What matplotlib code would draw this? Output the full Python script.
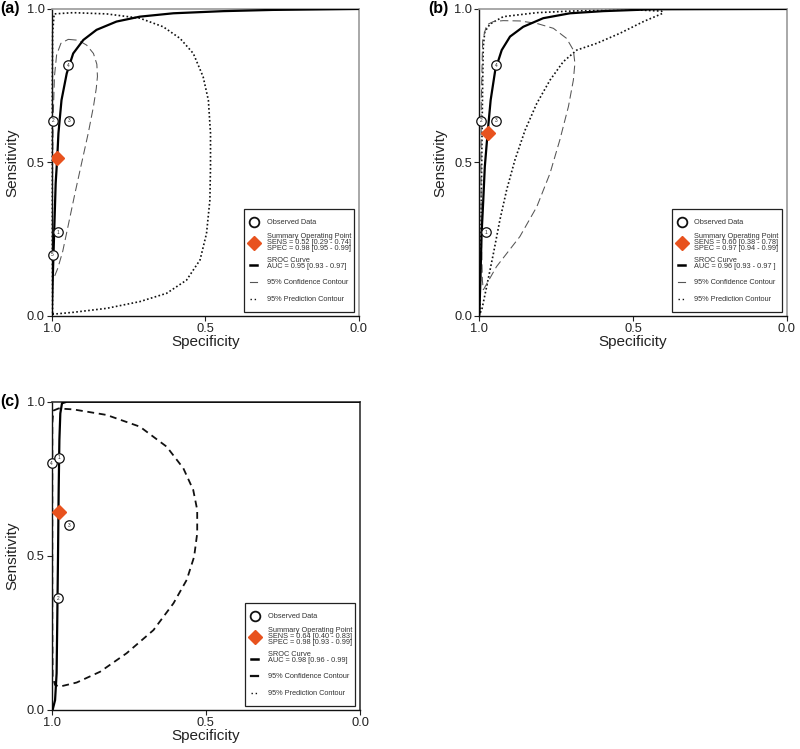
import matplotlib
matplotlib.use("Agg")
import matplotlib.pyplot as plt
from matplotlib import font_manager
from matplotlib.patches import Rectangle

# ---------------- data (specificity, sensitivity) ----------------
# Panel (a)
a_obs_spec = [0.997, 0.978, 0.995, 0.944, 0.946]
a_obs_sens = [0.198, 0.272, 0.636, 0.636, 0.817]
a_obs_lab = ["5", "1", "2", "3", "4"]
a_sum_spec = [0.982]
a_sum_sens = [0.515]
a_sroc_spec = [1.0, 0.997, 0.992, 0.987, 0.982, 0.978, 0.968, 0.951, 0.93, 0.897,
               0.854, 0.789, 0.713, 0.604, 0.441, 0.279, 0.0]
a_sroc_sens = [0.0, 0.105, 0.268, 0.432, 0.513, 0.595, 0.703, 0.79, 0.855, 0.899,
               0.932, 0.959, 0.975, 0.986, 0.993, 0.997, 1.0]
a_conf_spec = [0.946, 0.913, 0.886, 0.864, 0.853, 0.851, 0.855, 0.864, 0.881, 0.902,
               0.924, 0.945, 0.964, 0.98, 0.992, 0.996, 0.998, 0.998, 0.997, 0.995,
               0.991, 0.984, 0.97, 0.946]
a_conf_sens = [0.901, 0.898, 0.882, 0.855, 0.82, 0.78, 0.74, 0.682, 0.595, 0.5,
               0.4, 0.3, 0.21, 0.155, 0.125, 0.13, 0.2, 0.33, 0.49, 0.65,
               0.78, 0.85, 0.888, 0.901]
a_pred_spec = [0.997, 0.998, 0.998, 0.998, 0.997, 0.992, 0.93, 0.821, 0.713, 0.637,
               0.582, 0.539, 0.507, 0.49, 0.483, 0.483, 0.485, 0.496, 0.517, 0.561,
               0.626, 0.713, 0.821, 0.93, 0.995, 0.997]
a_pred_sens = [0.008, 0.25, 0.5, 0.75, 0.921, 0.984, 0.988, 0.984, 0.970, 0.942,
               0.904, 0.855, 0.779, 0.703, 0.595, 0.486, 0.377, 0.268, 0.182, 0.116,
               0.073, 0.046, 0.024, 0.011, 0.005, 0.008]

# Panel (b)
b_obs_spec = [0.978, 0.995, 0.944, 0.944]
b_obs_sens = [0.272, 0.636, 0.636, 0.817]
b_obs_lab = ["1", "2", "3", "4"]
b_sum_spec = [0.971]
b_sum_sens = [0.597]
b_sroc_spec = [1.0, 0.9967, 0.9924, 0.987, 0.982, 0.973, 0.963, 0.948, 0.927, 0.9,
               0.857, 0.792, 0.705, 0.597, 0.434, 0.0]
b_sroc_sens = [0.0, 0.105, 0.268, 0.377, 0.486, 0.595, 0.703, 0.801, 0.866, 0.91,
               0.942, 0.970, 0.986, 0.993, 0.999, 1.0]
b_conf_spec = [0.987, 0.944, 0.868, 0.813, 0.77, 0.738, 0.71, 0.694, 0.689, 0.694,
               0.716, 0.759, 0.813, 0.868, 0.922, 0.954, 0.976, 0.989, 0.9935, 0.9946,
               0.9935, 0.990, 0.987]
b_conf_sens = [0.084, 0.16, 0.258, 0.355, 0.464, 0.573, 0.682, 0.768, 0.823, 0.866,
               0.904, 0.937, 0.953, 0.961, 0.962, 0.959, 0.948, 0.899, 0.703, 0.486,
               0.268, 0.116, 0.084]
b_pred_spec = [0.998, 0.996, 0.9935, 0.991, 0.989, 0.987, 0.982, 0.965, 0.922, 0.813,
               0.705, 0.597, 0.488, 0.407, 0.403, 0.466, 0.542, 0.618, 0.683, 0.727,
               0.77, 0.813, 0.851, 0.884, 0.911, 0.933, 0.954, 0.976, 0.992, 0.998]
b_pred_sens = [0.008, 0.16, 0.377, 0.595, 0.758, 0.877, 0.926, 0.951, 0.975, 0.988,
               0.993, 0.997, 0.997, 0.993, 0.986, 0.959, 0.921, 0.888, 0.866, 0.828,
               0.768, 0.692, 0.605, 0.508, 0.41, 0.312, 0.203, 0.095, 0.018, 0.008]

# Panel (c)
c_obs_spec = [1.0, 0.975, 0.944, 0.978]
c_obs_sens = [0.80, 0.818, 0.60, 0.362]
c_obs_lab = ["4", "1", "3", "2"]
c_sum_spec = [0.976]
c_sum_sens = [0.641]
c_sroc_spec = [0.997, 0.989, 0.984, 0.982, 0.9795, 0.9773, 0.975, 0.972, 0.9665, 0.951, 0.0]
c_sroc_sens = [0.0, 0.032, 0.119, 0.281, 0.497, 0.714, 0.876, 0.962, 0.995, 1.0, 1.0]
c_conf_spec = [0.9946, 0.978, 0.93, 0.822, 0.714, 0.627, 0.573, 0.541, 0.528, 0.528,
               0.538, 0.562, 0.605, 0.67, 0.757, 0.843, 0.919, 0.973, 0.989, 0.997,
               0.998, 0.998, 0.998, 0.9946]
c_conf_sens = [0.971, 0.978, 0.975, 0.957, 0.919, 0.854, 0.784, 0.714, 0.649, 0.573,
               0.497, 0.422, 0.346, 0.259, 0.184, 0.124, 0.089, 0.076, 0.081, 0.108,
               0.281, 0.714, 0.93, 0.971]

legend_a = ["SENS = 0.52 [0.29 - 0.74]", "SPEC = 0.98 [0.95 - 0.99]", "AUC = 0.95 [0.93 - 0.97]"]
legend_b = ["SENS = 0.60 [0.38 - 0.78]", "SPEC = 0.97 [0.94 - 0.99]", "AUC = 0.96 [0.93 - 0.97 ]"]
legend_c = ["SENS = 0.64 [0.40 - 0.83]", "SPEC = 0.98 [0.93 - 0.99]", "AUC = 0.98 [0.96 - 0.99]"]

tick_vals = [1.0, 0.5, 0.0]
tick_labels = ["1.0", "0.5", "0.0"]

# ---------------- fonts ----------------
def has_font(name):
    try:
        font_manager.findfont(font_manager.FontProperties(family=name), fallback_to_default=False)
        return True
    except Exception:
        return False

MAIN = "Liberation Sans" if has_font("Liberation Sans") else "DejaVu Sans"
NARROW = "Liberation Sans Narrow" if has_font("Liberation Sans Narrow") else MAIN
LEG_FS = 6.2 if NARROW != MAIN else 5.3
plt.rcParams["font.family"] = [MAIN, "DejaVu Sans"]

ORANGE = "#E8521E"
fig = plt.figure(figsize=(8.0, 7.49), dpi=100)

def make_axes(rect, letter):
    ax = fig.add_axes(rect)
    ax.set_xlim(1.0, 0.0)
    ax.set_ylim(0.0, 1.0)
    ax.set_xticks(tick_vals)
    ax.set_xticklabels(tick_labels)
    ax.set_yticks(tick_vals)
    ax.set_yticklabels(tick_labels)
    ax.tick_params(direction="out", length=3.5, width=0.8, labelsize=9.3, pad=1.5, colors="#222222")
    ax.set_xlabel("Specificity", fontsize=11, labelpad=0, color="#222222")
    ax.set_ylabel("Sensitivity", fontsize=11, labelpad=5, color="#222222")
    ax.text(-0.167, 1.0, letter, transform=ax.transAxes, fontsize=11.5, fontweight="bold",
            ha="left", va="center")
    return ax

def draw_panel(ax, obs_s, obs_e, labs, sum_s, sum_e, sroc_s, sroc_e, conf_s, conf_e,
               pred_s, pred_e, conf_style, leg_txt, spine_col):
    for side in ["left", "bottom"]:
        ax.spines[side].set_color("#111111")
        ax.spines[side].set_linewidth(1.0)
    for side in ["top", "right"]:
        ax.spines[side].set_color(spine_col)
        ax.spines[side].set_linewidth(1.2)
    if pred_s is not None:
        ax.plot(pred_s, pred_e, color="#111111", lw=1.2, linestyle=(0, (1, 1.4)),
                zorder=2, clip_on=False)
    ax.plot(conf_s, conf_e, zorder=2, **conf_style)
    ax.plot(sroc_s, sroc_e, color="black", lw=1.6, zorder=3, solid_capstyle="butt")
    ax.plot(obs_s, obs_e, "o", ms=6.8, mfc="white", mec="#111111", mew=0.9, zorder=4,
            clip_on=False)
    for s, e, t in zip(obs_s, obs_e, labs):
        ax.text(s, e, t, fontsize=3.5, ha="center", va="center", zorder=5, color="#222222")
    ax.plot(sum_s, sum_e, "D", ms=6.8, mfc=ORANGE, mec=ORANGE, zorder=5)

    # legend box (drawn manually in axes coordinates)
    T = ax.transAxes
    ax.add_patch(Rectangle((0.627, 0.012), 0.357, 0.336, transform=T, fill=True,
                           facecolor="white", edgecolor="#222222", lw=0.9, zorder=6))
    mx, tx = 0.658, 0.70
    kw = dict(transform=T, fontsize=LEG_FS, family=[NARROW, MAIN], color="#333333",
              ha="left", va="center", zorder=7)
    ax.plot([mx], [0.3045], "o", ms=7, mfc="white", mec="#111111", mew=1.3, transform=T, zorder=7)
    ax.text(tx, 0.3045, "Observed Data", **kw)
    ax.plot([mx], [0.238], "D", ms=7, mfc=ORANGE, mec=ORANGE, transform=T, zorder=7)
    ax.text(tx, 0.259, "Summary Operating Point", **kw)
    ax.text(tx, 0.238, leg_txt[0], **kw)
    ax.text(tx, 0.2175, leg_txt[1], **kw)
    ax.plot([mx - 0.011, mx + 0.011], [0.166, 0.166], color="black", lw=1.8, transform=T, zorder=7)
    ax.text(tx, 0.179, "SROC Curve", **kw)
    ax.text(tx, 0.159, leg_txt[2], **kw)
    lcol = conf_style["color"]
    lw = 0.8 if conf_style["lw"] < 1 else 1.6
    ax.plot([mx - 0.011, mx + 0.011], [0.109, 0.109], color=lcol, lw=lw, transform=T, zorder=7)
    ax.text(tx, 0.109, "95% Confidence Contour", **kw)
    ax.plot([mx - 0.011, mx + 0.011], [0.0535, 0.0535], color="#111111", lw=1.0,
            linestyle=(0, (1, 2)), transform=T, zorder=7)
    ax.text(tx, 0.0535, "95% Prediction Contour", **kw)

conf_thin = dict(color="#555555", lw=0.75, linestyle=(0, (8, 4)))
conf_thick = dict(color="#111111", lw=1.3, linestyle=(0, (3.8, 2.6)))

ax_a = make_axes([0.0646, 0.5785, 0.384, 0.4095], "(a)")
draw_panel(ax_a, a_obs_spec, a_obs_sens, a_obs_lab, a_sum_spec, a_sum_sens,
           a_sroc_spec, a_sroc_sens, a_conf_spec, a_conf_sens, a_pred_spec, a_pred_sens,
           conf_thin, legend_a, "#9a9a9a")

ax_b = make_axes([0.5991, 0.5785, 0.3843, 0.4095], "(b)")
draw_panel(ax_b, b_obs_spec, b_obs_sens, b_obs_lab, b_sum_spec, b_sum_sens,
           b_sroc_spec, b_sroc_sens, b_conf_spec, b_conf_sens, b_pred_spec, b_pred_sens,
           conf_thin, legend_b, "#9a9a9a")

ax_c = make_axes([0.0646, 0.0521, 0.3854, 0.4116], "(c)")
draw_panel(ax_c, c_obs_spec, c_obs_sens, c_obs_lab, c_sum_spec, c_sum_sens,
           c_sroc_spec, c_sroc_sens, c_conf_spec, c_conf_sens, None, None,
           conf_thick, legend_c, "#333333")

fig.savefig("out.png", dpi=100)
